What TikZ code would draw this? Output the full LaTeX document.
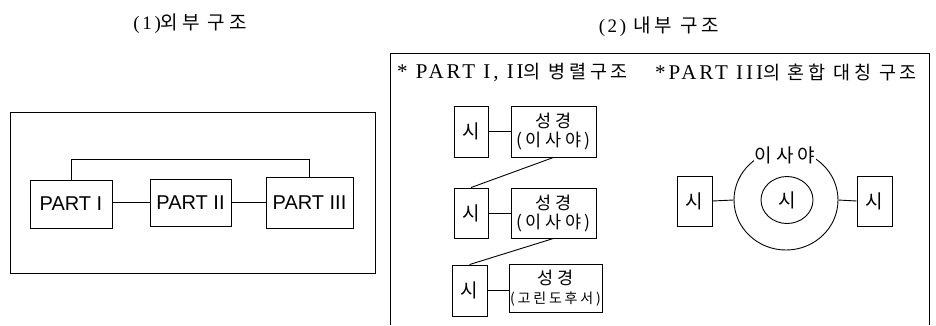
\documentclass[tikz,border=0pt]{standalone}
\usepackage{fontspec}
\setmainfont{Liberation Serif}
\newfontfamily\krf[LetterSpace=20]{Noto Sans CJK KR}
\newfontfamily\krt{Noto Sans CJK KR}
\newfontfamily\serls[LetterSpace=14]{Liberation Serif}
\newfontfamily\sansf{Liberation Sans}
\usetikzlibrary{shapes.geometric}
\tikzset{
  box/.style={draw, line width=0.9pt, inner sep=0pt, align=center},
  partbox/.style={box, font=\sansf\fontsize{20}{24}\selectfont},
  sibox/.style={box, minimum width=34pt, minimum height=51pt, font=\krt\fontsize{19}{21}\selectfont},
  bkbox/.style={box, minimum width=85pt, minimum height=51pt, font=\krf\fontsize{17.5}{19}\selectfont},
  conn/.style={line width=0.9pt},
  ring/.style={draw, ellipse, line width=0.9pt, inner sep=0pt},
  ttl/.style={inner sep=0pt, font=\fontsize{19}{21}\selectfont},
  hdr/.style={inner sep=0pt, anchor=west}
}
\begin{document}
\begin{tikzpicture}[x=1pt,y=-1pt]
\useasboundingbox (0,0) rectangle (936,325);
% titles
\node[ttl] (t1) at (190,24) {\serls (1)\krf 외부 구조};
\node[ttl] (t2) at (659,27) {\serls (2) \krf 내부 구조};
% left frame
\node[box, minimum width=365pt, minimum height=161pt] (outer) at (192.5,192.5) {};
\node[partbox, minimum width=82pt, minimum height=48pt] (p1) at (71,204) {PART I};
\node[partbox, minimum width=81pt, minimum height=47pt] (p2) at (190.5,202.5) {PART II};
\node[partbox, minimum width=87pt, minimum height=51pt] (p3) at (309.5,202.5) {PART III};
\coordinate (topc) at (0,159);
\draw[conn] (p1.north) -- (p1.north |- topc) -- (p3.north |- topc) -- (p3.north);
\draw[conn] (p2.west -| p1.east) -- (p2.west);
\draw[conn] (p2.east) -- (p2.east -| p3.west);
% right frame
\coordinate (fbl) at (390,325);
\coordinate (ftl) at (390,53);
\coordinate (ftr) at (929,53);
\coordinate (fbr) at (929,325);
\draw[conn] (fbl) -- (ftl) -- (ftr) -- (fbr);
\node[hdr, font=\fontsize{21}{23}\selectfont] (h1) at (397,72) {\serls * PART I, II\krf\fontsize{18.5}{20}\selectfont 의 병렬구조};
\node[hdr, font=\fontsize{21}{23}\selectfont] (h2) at (655,72) {\serls *PART III\krf\fontsize{18.5}{20}\selectfont 의 혼합 대칭 구조};
% parallel structure
\node[sibox] (s1) at (471,131.5) {시};
\node[bkbox] (b1) at (553.5,131.5) {성경\\(이사야)};
\node[sibox, minimum height=50pt] (s2) at (471,213) {시};
\node[bkbox, minimum height=50pt] (b2) at (553.5,213) {성경\\(이사야)};
\node[sibox, minimum width=35pt] (s3) at (469.5,290.5) {시};
\node[bkbox, minimum width=93pt, minimum height=48pt] (b3) at (555.5,288) {성경\\{\fontsize{14}{16}\selectfont (고린도후서)}};
\draw[conn] (s1.east) -- (b1.west);
\draw[conn] (s2.east) -- (b2.west);
\draw[conn] (s3.east) -- (s3.east -| b3.west);
\draw[conn] (b1.south) -- (s2.north);
\draw[conn] (b2.south) -- (s3.north);
% mixed symmetric structure
\node[sibox, minimum width=35pt, minimum height=50pt] (l) at (694.5,201) {시};
\node[sibox, minimum width=35pt, minimum height=50pt] (r) at (874.5,201) {시};
\node[ring, minimum width=104pt, minimum height=100pt] (big) at (786,200) {};
\node[ring, minimum width=52pt, minimum height=47pt, font=\krt\fontsize{19}{21}\selectfont] (inner) at (787,200) {시};
\node[fill=white, inner sep=1pt, font=\krf\fontsize{19}{21}\selectfont] (lab) at (785,155) {이사야};
\draw[conn] (l.east) -- (big.west);
\draw[conn] (big.east) -- (r.west);
\end{tikzpicture}
\end{document}
